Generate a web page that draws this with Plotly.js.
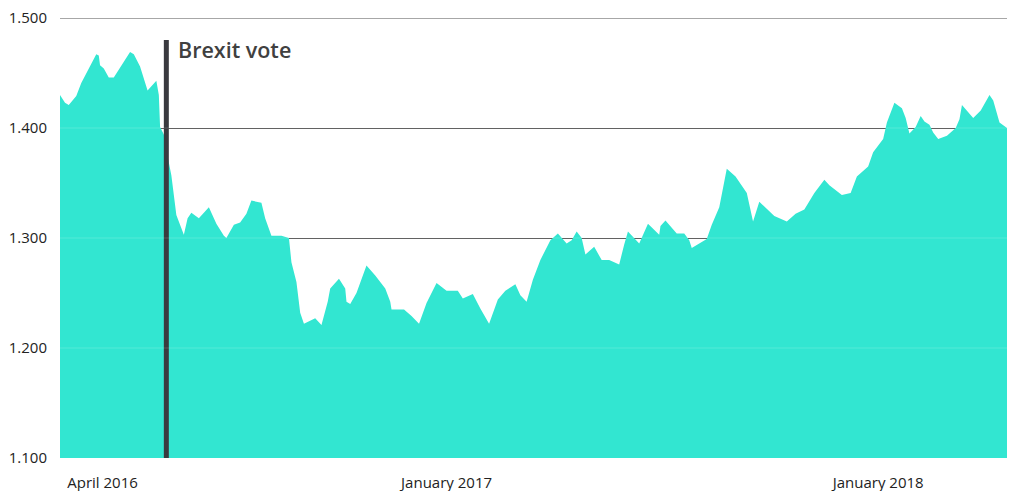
<!DOCTYPE html>
<html>
<head>
<meta charset="utf-8">
<script src="https://cdn.plot.ly/plotly-3.0.1.min.js"></script>
<style>html,body{margin:0;padding:0;background:#fff;}#chart{width:1010px;height:491px;}</style>
</head>
<body>
<div id="chart"></div>
<script>
// GBP/USD exchange rate
const dates = [
  "2016-03-30","2016-04-03","2016-04-06","2016-04-12","2016-04-16","2016-04-23","2016-04-28","2016-04-30",
  "2016-05-01","2016-05-04","2016-05-08","2016-05-12","2016-05-20","2016-05-25","2016-05-28",
  "2016-06-02","2016-06-08","2016-06-15","2016-06-17","2016-06-18","2016-06-21","2016-06-22","2016-06-27",
  "2016-07-01","2016-07-07","2016-07-10","2016-07-13","2016-07-19","2016-07-27",
  "2016-08-02","2016-08-08","2016-08-10","2016-08-16","2016-08-21","2016-08-26","2016-08-30",
  "2016-09-07","2016-09-10","2016-09-15","2016-09-23","2016-09-29",
  "2016-10-01","2016-10-05","2016-10-08","2016-10-11","2016-10-20","2016-10-25","2016-10-30",
  "2016-11-01","2016-11-08","2016-11-13","2016-11-14","2016-11-17","2016-11-22","2016-11-30",
  "2016-12-07","2016-12-15","2016-12-19","2016-12-20","2016-12-30",
  "2017-01-05","2017-01-11","2017-01-17","2017-01-25",
  "2017-02-02","2017-02-11","2017-02-15","2017-02-23",
  "2017-03-01","2017-03-08","2017-03-15","2017-03-21","2017-03-29",
  "2017-04-02","2017-04-07","2017-04-12","2017-04-18","2017-04-23","2017-04-26",
  "2017-05-02","2017-05-09","2017-05-13","2017-05-17","2017-05-21","2017-05-24","2017-05-31",
  "2017-06-06","2017-06-12","2017-06-20","2017-06-24","2017-06-27",
  "2017-07-06","2017-07-13","2017-07-22","2017-07-23","2017-07-27",
  "2017-08-05","2017-08-11","2017-08-15","2017-08-17","2017-08-29",
  "2017-09-02","2017-09-08","2017-09-14","2017-09-21","2017-09-30",
  "2017-10-05","2017-10-10","2017-10-22",
  "2017-11-01","2017-11-08","2017-11-15","2017-11-23",
  "2017-12-01","2017-12-05","2017-12-15","2017-12-22","2017-12-27",
  "2018-01-05","2018-01-09","2018-01-17","2018-01-20","2018-01-26",
  "2018-02-01","2018-02-04","2018-02-07","2018-02-12","2018-02-16","2018-02-19","2018-02-23","2018-02-26",
  "2018-03-02","2018-03-09","2018-03-16","2018-03-19","2018-03-21","2018-03-30",
  "2018-04-05","2018-04-12","2018-04-15","2018-04-20","2018-04-26"
];
const rates = [
  1.430,1.423,1.421,1.429,1.441,1.457,1.467,1.466,
  1.457,1.454,1.446,1.446,1.460,1.469,1.467,
  1.456,1.434,1.443,1.430,1.401,1.394,1.386,1.357,
  1.321,1.303,1.318,1.323,1.318,1.328,
  1.313,1.302,1.300,1.312,1.314,1.322,1.334,
  1.332,1.318,1.302,1.302,1.300,
  1.278,1.260,1.232,1.222,1.227,1.221,1.242,
  1.254,1.263,1.254,1.242,1.240,1.250,1.275,
  1.266,1.254,1.242,1.235,1.235,
  1.229,1.222,1.241,1.259,
  1.252,1.252,1.245,1.249,
  1.236,1.222,1.244,1.252,1.258,
  1.248,1.242,1.262,1.280,1.292,1.298,
  1.304,1.295,1.298,1.306,1.300,1.285,1.292,
  1.280,1.280,1.276,1.294,1.306,
  1.295,1.313,1.303,1.311,1.316,
  1.304,1.304,1.298,1.291,1.299,
  1.312,1.328,1.363,1.356,1.341,
  1.315,1.333,1.320,
  1.315,1.322,1.326,1.341,
  1.353,1.348,1.339,1.341,1.356,
  1.365,1.378,1.390,1.405,1.423,
  1.418,1.409,1.395,1.401,1.411,1.406,1.403,1.396,
  1.390,1.393,1.400,1.408,1.421,1.409,
  1.416,1.430,1.425,1.405,1.400
];
const tickDates = ["2016-05-03", "2017-02-02", "2018-01-13"];
const tickLabels = ["April 2016", "January 2017", "January 2018"];
const yTicks = [1.1, 1.2, 1.3, 1.4, 1.5];
const brexitDate = "2016-06-23";
const brexitLabel = "Brexit vote";

const FONT = "'Open Sans', 'Noto Sans', sans-serif";
const FILL = "#32E6D1";

const trace = {
  x: dates, y: rates, type: "scatter", mode: "lines",
  fill: "tozeroy", fillcolor: FILL,
  line: {width: 0, color: FILL, shape: "linear"},
  hoverinfo: "x+y"
};

const shapes = [
  {type: "line", xref: "paper", yref: "y", x0: 0, x1: 1, y0: 1.5, y1: 1.5,
   line: {color: "#8a8a8a", width: 1.5}, layer: "below"},
  {type: "line", xref: "x", yref: "y", x0: brexitDate, x1: brexitDate, y0: 1.1, y1: 1.48,
   line: {color: "#3a3a3f", width: 5}, layer: "above"}
];
[1.2, 1.3, 1.4].forEach(v => shapes.push({
  type: "line", xref: "paper", yref: "y", x0: 0, x1: 1, y0: v, y1: v,
  line: {color: "rgba(255,255,255,0.16)", width: 1}, layer: "above"
}));

const layout = {
  width: 1010, height: 491,
  margin: {l: 60, r: 3, t: 18, b: 33, pad: 0},
  paper_bgcolor: "#ffffff", plot_bgcolor: "#ffffff",
  showlegend: false,
  font: {family: FONT, color: "#222"},
  xaxis: {
    type: "date", range: [dates[0], dates[dates.length - 1]],
    showgrid: false, zeroline: false, showline: false,
    tickmode: "array", tickvals: tickDates, ticktext: tickLabels,
    ticks: "outside", ticklen: 11, tickcolor: "rgba(0,0,0,0)",
    tickfont: {family: FONT, size: 15, color: "#222"}
  },
  yaxis: {
    range: [1.1, 1.5], tickmode: "array", tickvals: yTicks, tickformat: ".3f",
    showgrid: true, gridcolor: "#555", gridwidth: 1, zeroline: false, showline: false,
    ticks: "outside", ticklen: 9, tickcolor: "rgba(0,0,0,0)",
    tickfont: {family: FONT, size: 15, color: "#222"}
  },
  shapes: shapes,
  annotations: [{
    x: brexitDate, y: 1.471, xref: "x", yref: "y", xanchor: "left", yanchor: "middle",
    xshift: 10, text: brexitLabel, showarrow: false,
    font: {family: FONT, size: 21.5, color: "#404040", weight: 600}
  }]
};

Plotly.newPlot("chart", [trace], layout, {displayModeBar: false, staticPlot: true});
</script>
</body>
</html>
